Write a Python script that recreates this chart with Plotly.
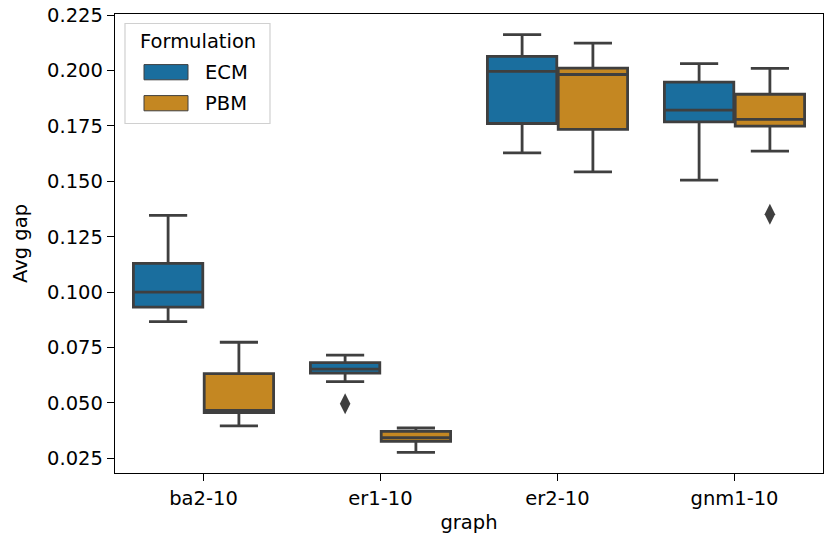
import plotly.graph_objects as go

# ---- data ----
graphs = ["ba2-10", "er1-10", "er2-10", "gnm1-10"]
formulations = ["ECM", "PBM"]

ecm_lower = [0.0867, 0.0596, 0.1628, 0.1505]
ecm_q1 = [0.0932, 0.0635, 0.1761, 0.1768]
ecm_median = [0.1000, 0.0653, 0.1996, 0.1821]
ecm_q3 = [0.1130, 0.0682, 0.2064, 0.1948]
ecm_upper = [0.1346, 0.0716, 0.2162, 0.2031]
ecm_outliers = {"er1-10": [0.0496]}

pbm_lower = [0.0397, 0.0277, 0.1543, 0.1636]
pbm_q1 = [0.0457, 0.0327, 0.1734, 0.1749]
pbm_median = [0.0466, 0.0343, 0.1982, 0.1780]
pbm_q3 = [0.0632, 0.0372, 0.2011, 0.1893]
pbm_upper = [0.0774, 0.0387, 0.2124, 0.2010]
pbm_outliers = {"gnm1-10": [0.1352]}

y_ticks = [0.025, 0.050, 0.075, 0.100, 0.125, 0.150, 0.175, 0.200, 0.225]

# ---- style ----
colors = {"ECM": "#1a6e9e", "PBM": "#c48722"}
edge = "#3f3f3f"
font_family = "DejaVu Sans, Liberation Sans, sans-serif"
fsize = 19.5
offset = 0.2
box_w = 0.392

series = {
    "ECM": (ecm_lower, ecm_q1, ecm_median, ecm_q3, ecm_upper, ecm_outliers, -offset),
    "PBM": (pbm_lower, pbm_q1, pbm_median, pbm_q3, pbm_upper, pbm_outliers, offset),
}

fig = go.Figure()
for name in formulations:
    lo, q1, med, q3, up, outl, off = series[name]
    xs = [i + off for i in range(len(graphs))]
    fig.add_trace(go.Box(
        name=name, x=xs, q1=q1, median=med, q3=q3,
        lowerfence=lo, upperfence=up,
        width=box_w, whiskerwidth=0.55,
        fillcolor=colors[name],
        line=dict(color=edge, width=2.8),
        boxpoints=False, showlegend=False, hoverinfo="skip",
    ))
    ox, oy = [], []
    for g, vals in outl.items():
        for v in vals:
            ox.append(graphs.index(g) + off)
            oy.append(v)
    fig.add_trace(go.Scatter(
        x=ox, y=oy, mode="markers", showlegend=False,
        marker=dict(symbol="diamond-tall", size=15, color=edge,
                    line=dict(width=0)),
    ))

L, T, W, H = 115, 14, 708, 459
FIG_W, FIG_H = 825, 543

def px(x):
    return (x - L) / W
def py(y):
    return (T + H - y) / H

fig.add_shape(type="rect", xref="paper", yref="paper",
              x0=px(125), x1=px(270), y0=py(123.5), y1=py(23.5),
              line=dict(color="#d0d0d0", width=1.2), fillcolor="white", layer="above")
fig.add_annotation(xref="paper", yref="paper", x=px(197.5), y=py(41),
                   text="Formulation", showarrow=False, xanchor="center", yanchor="middle",
                   font=dict(family=font_family, size=fsize, color="#000"))
for name, yc in zip(formulations, [72.2, 103.2]):
    fig.add_shape(type="rect", xref="paper", yref="paper",
                  x0=px(144), x1=px(188), y0=py(yc + 7.6), y1=py(yc - 7.6),
                  line=dict(color=edge, width=1), fillcolor=colors[name], layer="above")
    fig.add_annotation(xref="paper", yref="paper", x=px(203), y=py(yc),
                       text=name, showarrow=False, xanchor="left", yanchor="middle",
                       font=dict(family=font_family, size=fsize, color="#000"))

fig.update_layout(
    width=FIG_W, height=FIG_H,
    margin=dict(l=L, r=FIG_W - L - W, t=T, b=FIG_H - T - H, autoexpand=False),
    paper_bgcolor="white", plot_bgcolor="white",
    font=dict(family=font_family, size=fsize, color="#000"),
    boxmode="overlay",
    showlegend=False,
)
fig.update_xaxes(
    range=[-0.5, 3.5], tickmode="array",
    tickvals=list(range(len(graphs))), ticktext=graphs,
    showline=True, mirror=True, linecolor="black", linewidth=1.3,
    ticks="outside", ticklen=7, tickwidth=1.3, tickcolor="black",
    showgrid=False, zeroline=False, automargin=False,
    title=dict(text="graph", standoff=6, font=dict(size=fsize)),
)
fig.update_yaxes(
    range=[0.0184, 0.2255], tickmode="array", tickvals=y_ticks,
    ticktext=[f"{v:.3f}" for v in y_ticks],
    showline=True, mirror=True, linecolor="black", linewidth=1.3,
    ticks="outside", ticklen=7, tickwidth=1.3, tickcolor="black",
    ticklabeloverflow="allow",
    showgrid=False, zeroline=False, automargin=False,
    title=dict(text="Avg gap", standoff=14, font=dict(size=fsize)),
)

fig.write_html("out.html",
               config={"displayModeBar": False},
               post_script="document.body.style.margin='0';")
